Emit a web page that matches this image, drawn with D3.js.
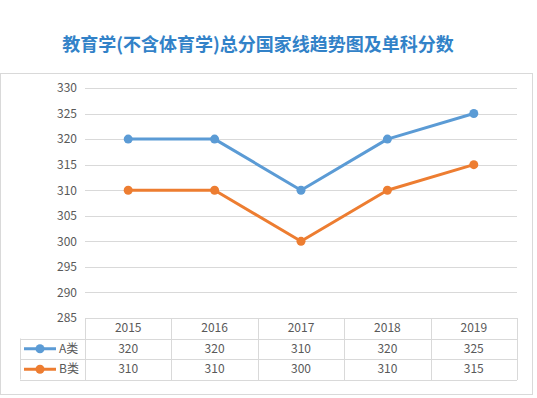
<!DOCTYPE html>
<html>
<head>
<meta charset="utf-8">
<script src="https://cdn.jsdelivr.net/npm/d3@7"></script>
<style>
body { margin: 0; background: #fff; }
</style>
</head>
<body>
<script>
var w = 537;
var h = 398;

// data
var years = ["2015", "2016", "2017", "2018", "2019"];
var seriesNames = ["A类", "B类"];
var seriesA = [320, 320, 310, 320, 325];
var seriesB = [310, 310, 300, 310, 315];
var yTicks = [285, 290, 295, 300, 305, 310, 315, 320, 325, 330];
var title = "教育学(不含体育学)总分国家线趋势图及单科分数";

var colors = ["#5b9bd5", "#ed7d31"];
var series = [seriesA, seriesB];

var svg = d3.select("body")
    .append("svg")
    .attr("width", w)
    .attr("height", h);

var font = "'Noto Sans CJK SC', 'Noto Sans', sans-serif";

// title
svg.append("text")
    .attr("x", 258)
    .attr("y", 51)
    .attr("text-anchor", "middle")
    .attr("font-family", font)
    .attr("font-weight", "bold")
    .attr("font-size", 18)
    .attr("fill", "#3282c8")
    .text(title);

// outer box
svg.append("rect")
    .attr("x", 0.5)
    .attr("y", 73.5)
    .attr("width", 532)
    .attr("height", 321)
    .attr("fill", "none")
    .attr("stroke", "#d9d9d9");

var x = d3.scaleBand().domain(years).range([85, 517]);
var y = d3.scaleLinear().domain([285, 330]).range([318, 88]);

// gridlines
svg.append("g").selectAll("line")
    .data(yTicks)
    .enter()
    .append("line")
    .attr("x1", 85)
    .attr("x2", 517)
    .attr("y1", function(d) { return Math.round(y(d)) + 0.5; })
    .attr("y2", function(d) { return Math.round(y(d)) + 0.5; })
    .attr("stroke", "#d9d9d9")
    .attr("stroke-width", 1);

// y axis labels
var yAxis = d3.axisLeft(y).tickValues(yTicks).tickSize(0).tickPadding(0);
var ga = svg.append("g")
    .attr("transform", "translate(77,0)")
    .call(yAxis);
ga.select(".domain").remove();
ga.selectAll("text")
    .attr("font-family", font)
    .attr("font-size", 12)
    .attr("fill", "#595959");

// lines and markers
var line = d3.line()
    .x(function(d, i) { return x(years[i]) + x.bandwidth() / 2; })
    .y(function(d) { return y(d); });

series.forEach(function(s, k) {
    svg.append("path")
        .datum(s)
        .attr("d", line)
        .attr("fill", "none")
        .attr("stroke", colors[k])
        .attr("stroke-width", 3)
        .attr("stroke-linejoin", "round");
    svg.append("g").selectAll("circle")
        .data(s)
        .enter()
        .append("circle")
        .attr("cx", function(d, i) { return x(years[i]) + x.bandwidth() / 2; })
        .attr("cy", function(d) { return y(d); })
        .attr("r", 4.5)
        .attr("fill", colors[k]);
});

// data table
var rowY = [318, 338.5, 359, 379.5];
var tbl = svg.append("g");
var grid = "#d9d9d9";

rowY.forEach(function(ry, i) {
    tbl.append("line")
        .attr("x1", i === 0 ? 85 : 20)
        .attr("x2", 517)
        .attr("y1", Math.round(ry) + 0.5)
        .attr("y2", Math.round(ry) + 0.5)
        .attr("stroke", grid);
});
tbl.append("line")
    .attr("x1", 20.5).attr("x2", 20.5)
    .attr("y1", 338.5).attr("y2", 379.5)
    .attr("stroke", grid);
years.concat(["end"]).forEach(function(yr, i) {
    var xx = i < years.length ? x(yr) : 517;
    tbl.append("line")
        .attr("x1", Math.round(xx) + 0.5)
        .attr("x2", Math.round(xx) + 0.5)
        .attr("y1", 318)
        .attr("y2", 380)
        .attr("stroke", grid);
});

// header
tbl.selectAll("text.hdr")
    .data(years)
    .enter()
    .append("text")
    .attr("class", "hdr")
    .attr("x", function(d) { return x(d) + x.bandwidth() / 2; })
    .attr("y", (rowY[0] + rowY[1]) / 2 + 4)
    .attr("text-anchor", "middle")
    .attr("font-family", font)
    .attr("font-size", 12)
    .attr("fill", "#595959")
    .text(function(d) { return d; });

series.forEach(function(s, k) {
    var cy = (rowY[k + 1] + rowY[k + 2]) / 2;
    tbl.selectAll("text.v" + k)
        .data(s)
        .enter()
        .append("text")
        .attr("class", "v" + k)
        .attr("x", function(d, i) { return x(years[i]) + x.bandwidth() / 2; })
        .attr("y", cy + 4)
        .attr("text-anchor", "middle")
        .attr("font-family", font)
        .attr("font-size", 12)
        .attr("fill", "#595959")
        .text(function(d) { return d; });

    // legend key
    tbl.append("line")
        .attr("x1", 24).attr("x2", 56)
        .attr("y1", cy).attr("y2", cy)
        .attr("stroke", colors[k])
        .attr("stroke-width", 3);
    tbl.append("circle")
        .attr("cx", 40).attr("cy", cy).attr("r", 4.5)
        .attr("fill", colors[k]);
    tbl.append("text")
        .attr("x", 59)
        .attr("y", cy + 4)
        .attr("font-family", font)
        .attr("font-size", 12)
        .attr("fill", "#595959")
        .text(seriesNames[k]);
});
</script>
</body>
</html>
